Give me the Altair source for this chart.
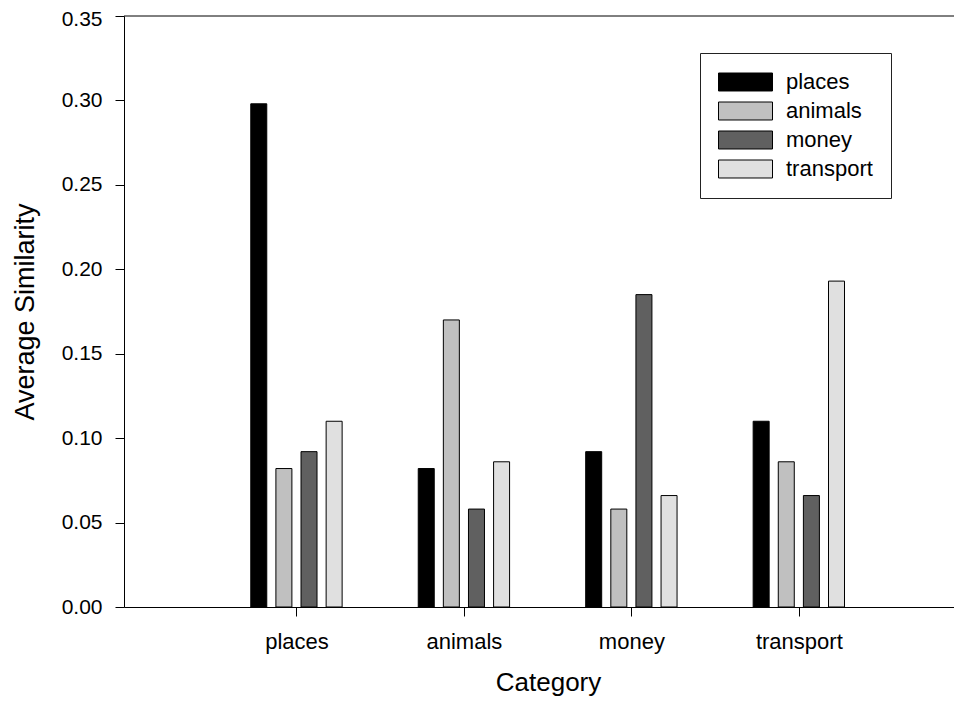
import altair as alt
import pandas as pd

categories = ["places", "animals", "money", "transport"]
series = ["places", "animals", "money", "transport"]
colors = ["#000000", "#c0c0c0", "#606060", "#e0e0e0"]

# values[series][category]
places_vals = [0.298, 0.082, 0.092, 0.110]
animals_vals = [0.082, 0.170, 0.058, 0.086]
money_vals = [0.092, 0.058, 0.185, 0.066]
transport_vals = [0.110, 0.086, 0.066, 0.193]
all_vals = [places_vals, animals_vals, money_vals, transport_vals]

rows = []
for si, (s, vals) in enumerate(zip(series, all_vals)):
    for ci, (c, v) in enumerate(zip(categories, vals)):
        rows.append({"series": s, "category": c, "si": si, "ci": ci + 1,
                     "pos": ci + 1 + (si - 1.5) * 0.15, "value": v})
df = pd.DataFrame(rows)

W = 830
H = 591
unit = 169.5
FONT = "Liberation Sans"

label_expr = "[''," + ",".join("'%s'" % c for c in categories) + "][datum.value]"

bars = alt.Chart(df).mark_bar(size=16, stroke="#000000", strokeWidth=1).encode(
    x=alt.X("pos:Q",
            scale=alt.Scale(domain=[0, W / unit], nice=False, zero=True),
            axis=alt.Axis(values=[1, 2, 3, 4], labelExpr=label_expr,
                          title="Category", grid=False, tickSize=9,
                          labelPadding=15, titlePadding=17, titleX=424,
                          titleFontSize=26)),
    y=alt.Y("value:Q",
            scale=alt.Scale(domain=[0, 0.35], nice=False),
            axis=alt.Axis(values=[0, 0.05, 0.1, 0.15, 0.2, 0.25, 0.3, 0.35],
                          format=".2f", title="Average Similarity", grid=False,
                          tickSize=9, labelPadding=13, titlePadding=22,
                          labelFontSize=21,
                          labelOffset={"condition": {"test": "datum.value >= 0.349", "value": 3},
                                       "value": 0})),
    fill=alt.Fill("series:N", sort=series,
                  scale=alt.Scale(domain=series, range=colors),
                  legend=alt.Legend(title=None, orient="none", legendX=576, legendY=37,
                                    symbolType="M-1,-0.3333H1V0.3333H-1Z",
                                    symbolSize=2916, symbolStrokeColor="#000000",
                                    symbolStrokeWidth=1, clipHeight=22,
                                    labelFontSize=22, labelFont=FONT, labelColor="#000000",
                                    labelOffset=13, rowPadding=7, padding=18,
                                    strokeColor="#222222", fillColor="#ffffff")),
)

top = alt.Chart(pd.DataFrame({"top": [0.35]})).mark_rule(color="#000000", strokeWidth=1).encode(
    y="top:Q"
)

chart = alt.layer(bars, top).properties(
    width=W, height=H,
    autosize=alt.AutoSizeParams(type="none"),
    padding={"left": 116, "top": 8, "right": 0, "bottom": 91},
).configure_view(stroke=None).configure_axis(
    labelFont=FONT, titleFont=FONT, labelFontSize=22, titleFontSize=27,
    titleFontWeight="normal", labelColor="#000000", titleColor="#000000",
    domainColor="#000000", tickColor="#000000", domainWidth=1, tickWidth=1,
)

chart.save("out.html", embed_options={"renderer": "svg", "actions": False})
